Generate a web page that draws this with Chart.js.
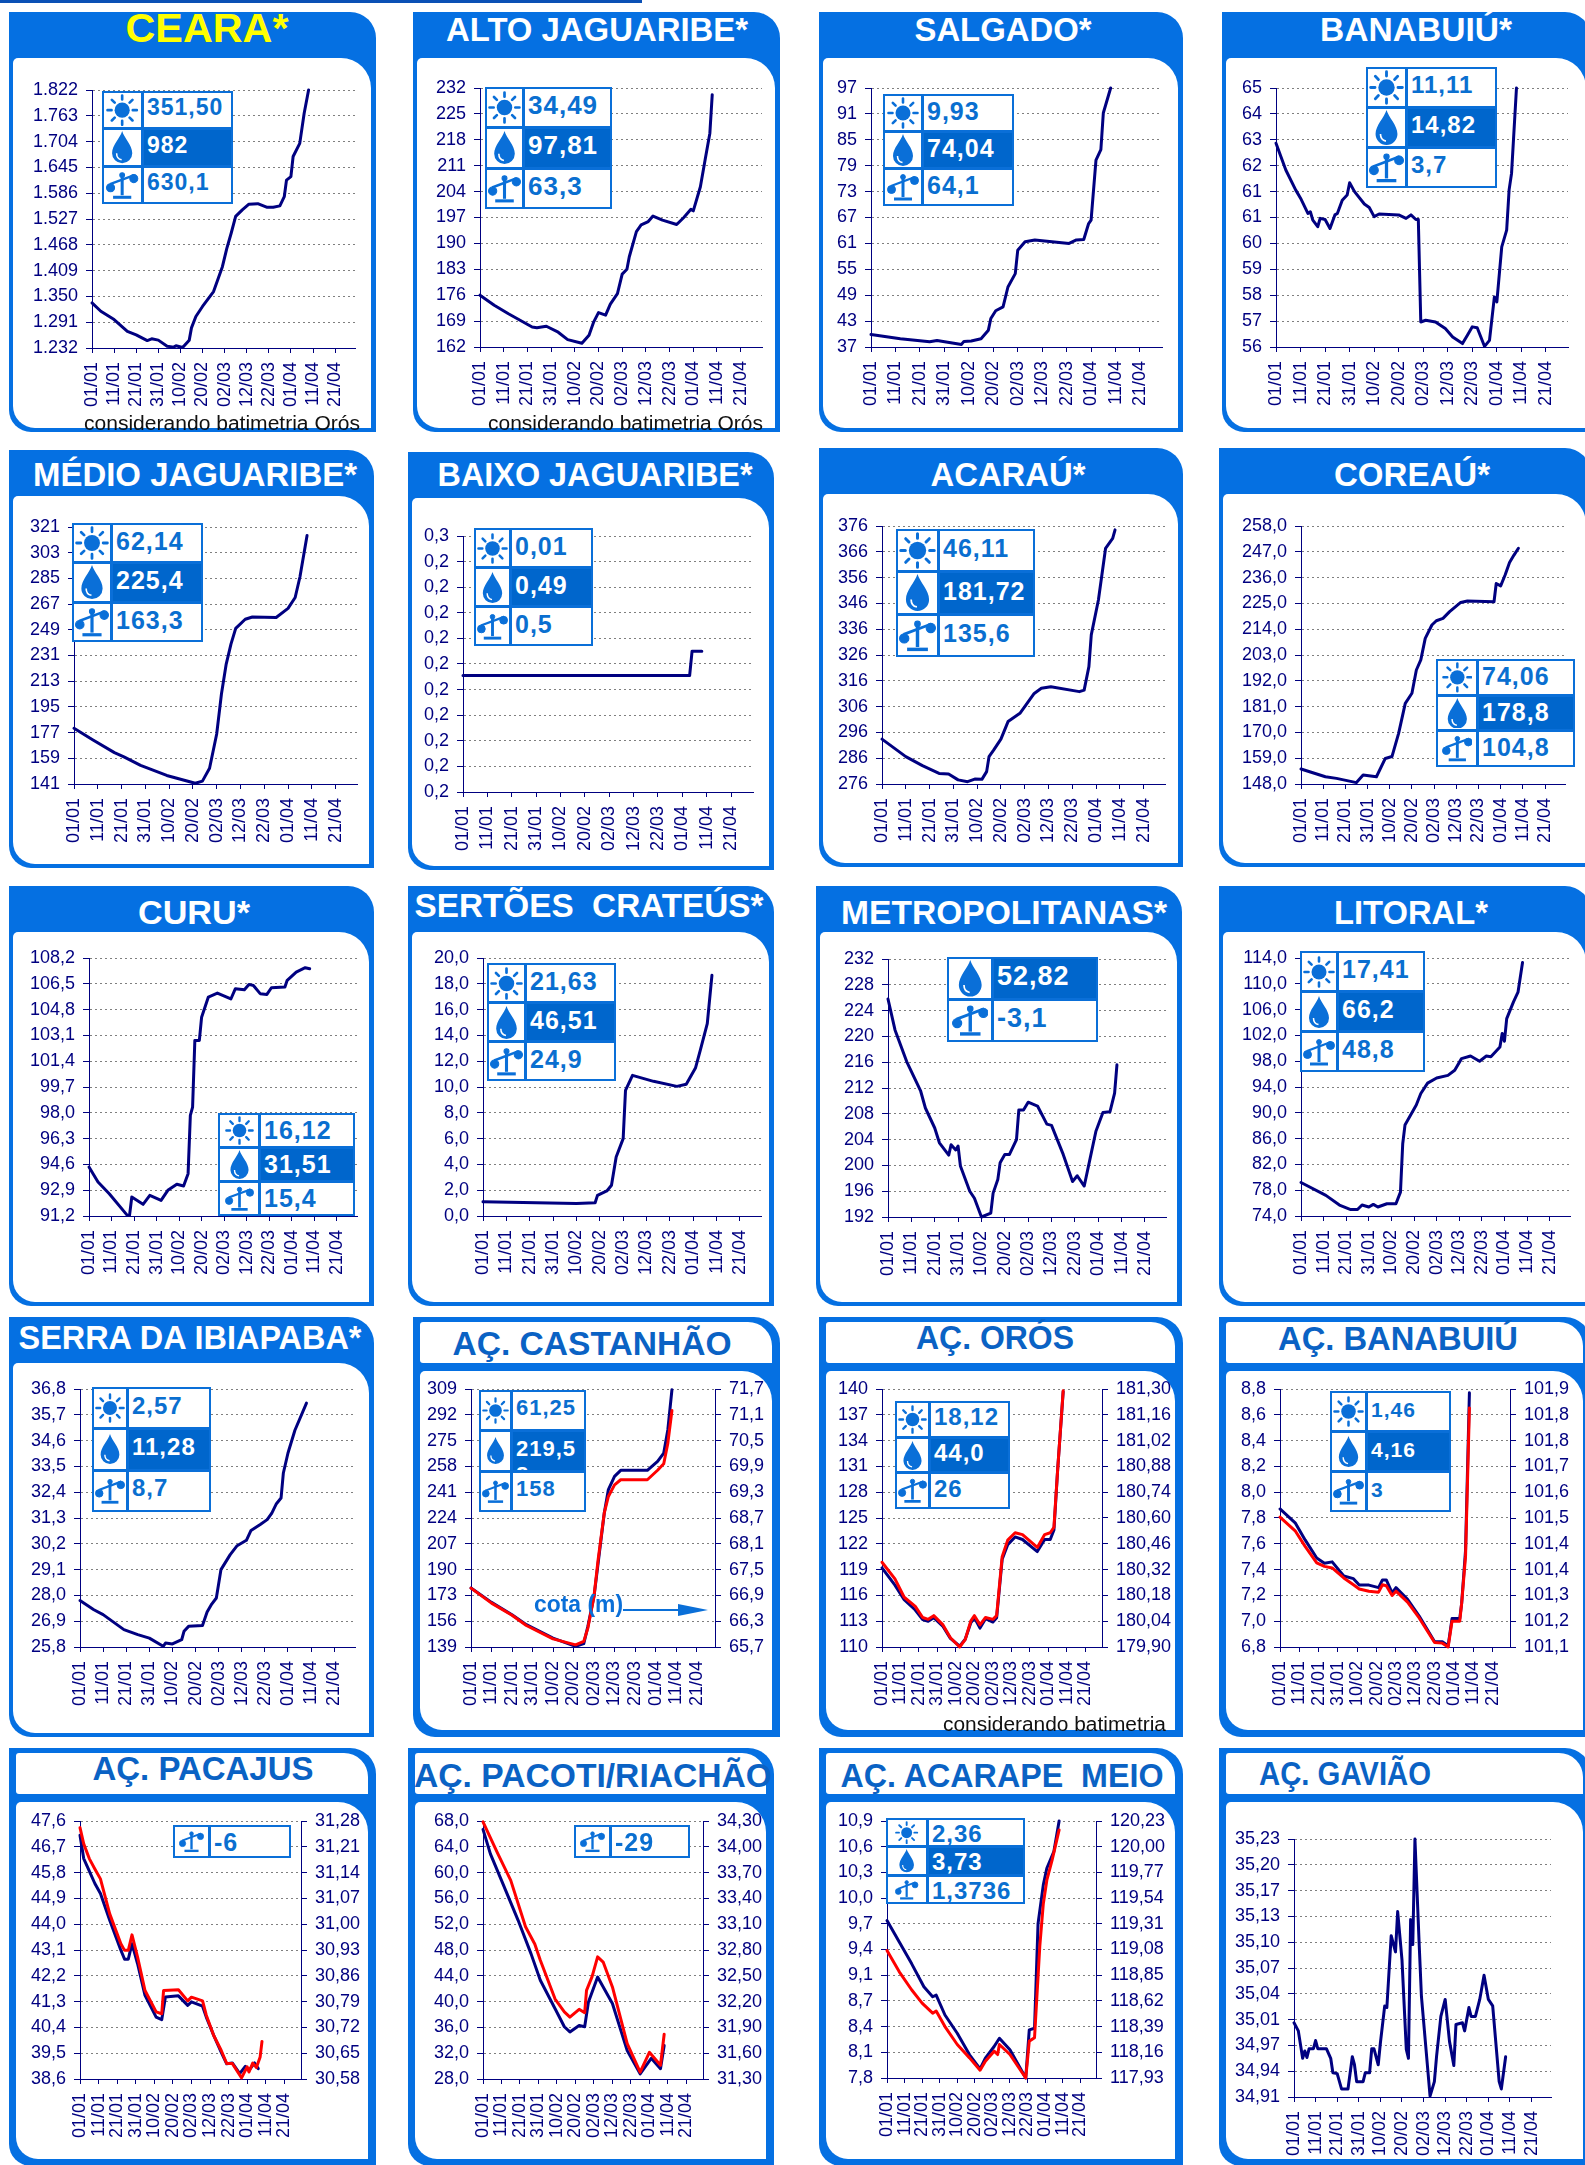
<!DOCTYPE html>
<html>
<head>
<meta charset="utf-8">
<title>Reservatórios Ceará</title>
<script src="https://cdn.jsdelivr.net/npm/chart.js@4"></script>
<style>
  html, body { margin: 0; padding: 0; background: #fff; }
  body { position: relative; width: 1585px; height: 2165px; overflow: hidden; font-family: "Liberation Sans", Arial, sans-serif; }
  .topbar { position: absolute; left: 0; top: 0; width: 642px; height: 3px; background: #0a50b5; }
  .frame { position: absolute; background: #0570e2; overflow: hidden; border-radius: 0 26px 0 22px; }
  .head { position: absolute; background: #fff; border-radius: 3px 24px 0 3px; }
  .inner { position: absolute; background: #fff; border-radius: 5px 30px 0 22px; }
  .title { position: absolute; font-weight: bold; white-space: pre; line-height: 1; }
  canvas { position: absolute; }
  .box { position: absolute; border: 2px solid #0a6fd8; box-sizing: border-box; background: #fff; display: flex; flex-direction: column; }
  .row { flex: 1 1 0; display: flex; min-height: 0; overflow: hidden; border-top: 3px solid #0a6fd8; }
  .row:first-child { border-top: 0; }
  .icon { border-right: 3px solid #0a6fd8; display: flex; align-items: center; justify-content: center; flex: none; box-sizing: border-box; }
  .val { flex: 1; overflow: hidden; font-weight: bold; color: #0a6fd0; padding-left: 3px; letter-spacing: 1px; white-space: pre; line-height: 1.2; }
  .val.dark { background: #0066cc; color: #fff; }
  .note { position: absolute; color: #111; white-space: pre; line-height: 1; font-size: 20px; }
  svg.arrow { position: absolute; left: 0; top: 0; }
</style>
</head>
<body>
<div class="topbar"></div>
<script>
// eixo X comum a todos os graficos (dias desde 01/01)
const dateLabels = ['01/01','11/01','21/01','31/01','10/02','20/02','02/03','12/03','22/03','01/04','11/04','21/04'];

// series: dias + valores, e rotulos do eixo Y
const cearaDays = [0,4,10,16,20,25,27,30,34,37,38,41,44,45,47,50,55,59,61,63,65,68,71,75,79,82,85,87,88,90,91,94,96,98];
const cearaVals = [1335,1316,1297,1270,1262,1249,1253,1250,1236,1234,1237,1233,1250,1278,1304,1327,1361,1418,1460,1495,1533,1548,1561,1562,1554,1554,1557,1578,1616,1624,1670,1700,1769,1822];
const cearaTicks = ['1.232','1.291','1.350','1.409','1.468','1.527','1.586','1.645','1.704','1.763','1.822'];

const altoDays = [0,6,12,22,24,28,33,37,43,46,48,50,53,55,58,60,62,63,66,68,71,73,77,83,86,89,90,93,95,97,98];
const altoVals = [176,173.3,171,167.4,167.2,167.6,166,164,163,165.2,168.8,171.3,170.6,173.6,176.4,181.7,183,186.4,193.2,195,195.9,197.4,196.3,195.1,197,199.2,198.8,205.3,212.6,219.8,230.2];
const altoTicks = ['162','169','176','183','190','197','204','211','218','225','232'];

const salgadoDays = [0,12,24,27,37,38,41,45,48,49,51,54,56,59,60,63,67,81,84,87,89,90,92,94,95,98];
const salgadoVals = [39.9,38.9,38.2,38.5,37.6,38.3,38.4,38.9,40.9,43.6,45.4,46.3,50.9,54,59.4,61.4,61.8,61,61.8,61.9,65.6,66.4,80.3,82.7,91.2,97];
const salgadoTicks = ['37','43','49','55','61','67','73','79','85','91','97'];

const banabuiuDays = [0,4,8,10,13,14,15,17,18,20,22,24,25,27,29,30,32,36,38,40,42,50,53,55,57,58,59,61,65,69,72,76,78,80,82,85,87,89,90,92,94,95,96,98];
const banabuiuVals = [63.08,62.15,61.46,61.17,60.64,60.7,60.41,60.18,60.47,60.43,60.12,60.59,60.64,61.1,61.28,61.71,61.4,60.97,60.85,60.53,60.62,60.59,60.47,60.59,60.43,60.43,56.87,56.93,56.87,56.64,56.35,56.12,56.41,56.7,56.67,56.02,56.23,57.74,57.57,59.48,60.06,61.46,62.04,65];
const banabuiuTicks = ['56','57','58','59','60','61','61','62','63','64','65'];

const medioDays = [0,8,17,21,28,39,51,54,57,60,62,64,66,68,72,75,85,90,93,95,98];
const medioVals = [180,171.8,163,160,154,147,141.5,143,152,176,204,225,239,250,256.4,258,257.6,264,271.6,286,315];
const medioTicks = ['141','159','177','195','213','231','249','267','285','303','321'];

const baixoDays = [0,93,94,98];
const baixoVals = [0.1955,0.1955,0.205,0.205];
const baixoTicks = ['0,2','0,2','0,2','0,2','0,2','0,2','0,2','0,2','0,2','0,2','0,3'];

const acarauDays = [0,10,17,24,28,32,36,39,42,44,45,47,50,53,58,64,67,71,83,85,87,88,91,94,97,98];
const acarauVals = [293.4,286.6,283.1,280.1,279.9,277.6,276.9,277.9,277.8,280.8,286.6,289.2,293.4,300.2,303.4,311.1,313.1,313.7,311.8,312.4,321.5,333.8,347.3,367.3,371.2,374.5];
const acarauTicks = ['276','286','296','306','316','326','336','346','356','366','376'];

const coreauDays = [0,11,16,25,28,34,38,41,44,47,50,52,54,56,59,61,64,67,72,75,87,88,90,92,94,96,98];
const coreauVals = [154.4,151.1,150.4,148.6,151.8,151.1,158.9,159.7,169.6,182.4,186.7,196.6,200.9,210.1,215.8,217.6,218.6,221.5,225.4,226,225.7,233.5,232.5,237.1,242.4,245.6,248.5];
const coreauTicks = ['148,0','159,0','170,0','181,0','192,0','203,0','214,0','225,0','236,0','247,0','258,0'];

const curuDays = [0,4,9,17,18,19,24,27,32,35,39,42,44,45,46,47,49,50,53,57,63,65,69,71,73,76,79,81,87,88,92,96,98];
const curuVals = [94.43,93.44,92.67,91.24,91.24,92.45,91.97,92.56,92.23,92.89,93.29,93.18,93.99,97.83,98.38,102.77,102.77,104.3,105.63,105.89,105.5,106.18,106.11,106.46,106.39,105.85,105.8,106.24,106.29,106.73,107.27,107.56,107.49];
const curuTicks = ['91,2','92,9','94,6','96,3','98,0','99,7','101,4','103,1','104,8','106,5','108,2'];

const sertoesDays = [0,40,48,49,53,55,57,60,61,64,73,83,87,91,93,96,98];
const sertoesVals = [1.11,0.96,1.03,1.6,1.94,2.38,4.57,6,9.74,10.9,10.44,10.05,10.21,11.5,12.84,14.91,18.66];
const sertoesTicks = ['0,0','2,0','4,0','6,0','8,0','10,0','12,0','14,0','16,0','18,0','20,0'];

const metroDays = [0,3,8,14,16,20,22,26,27,29,30,31,35,37,40,44,45,47,48,50,52,55,56,58,60,64,68,70,75,79,81,84,87,89,92,95,97,98];
const metroVals = [225.8,221,216.1,211.5,208.9,205.8,203.5,201.6,203.2,202.4,203,199.9,196,194.9,192,192.6,195.7,197.8,200.4,201.7,201.7,204,208.6,208.6,209.8,209.2,206.4,206.2,201.7,197.5,198.4,196.8,201.9,205.3,208.2,208.3,211.2,215.6];
const metroTicks = ['192','196','200','204','208','212','216','220','224','228','232'];

const litoralDays = [0,11,17,22,25,27,30,32,34,38,42,44,45,46,51,53,56,60,65,68,71,75,79,82,84,88,89,90,91,94,96,98];
const litoralVals = [79.2,77.2,75.7,75,75,75.7,75.4,75.8,75.4,75.9,75.9,77.7,85.2,88.1,91.2,93,94.6,95.4,95.8,96.6,98.4,98.8,98,98.8,98.7,100.2,102.3,101.1,104.6,107.2,108.7,113.3];
const litoralTicks = ['74,0','78,0','82,0','86,0','90,0','94,0','98,0','102,0','106,0','110,0','114,0'];

const serraDays = [0,6,10,19,25,30,36,37,40,44,45,47,53,55,57,59,61,65,68,72,74,78,81,83,85,87,88,90,93,98];
const serraVals = [27.78,27.39,27.18,26.54,26.33,26.18,25.83,25.97,25.93,26.11,26.47,26.68,26.72,27.29,27.63,27.89,29.1,29.74,30.12,30.35,30.77,31.02,31.23,31.51,31.91,32.15,33.22,34.07,35.04,36.2];
const serraTicks = ['25,8','26,9','28,0','29,1','30,2','31,3','32,4','33,5','34,6','35,7','36,8'];

const castanhaoDays = [0,10,20,27,40,51,55,57,60,62,65,67,70,73,86,91,94,96,98];
const castanhaoVals = [177.9,168.4,160.3,153.7,144.9,139.4,141.2,152.6,172.4,194.3,227.3,242.7,251.4,255.4,255.4,261.3,266.8,282.2,308.5];
const castanhaoCota = [67.07,66.72,66.44,66.2,65.89,65.75,65.83,66.14,66.88,67.73,68.82,69.2,69.47,69.59,69.59,69.81,69.96,70.44,71.2];
const castanhaoTicks = ['139','156','173','190','207','224','241','258','275','292','309'];
const castanhaoCotaTicks = ['65,7','66,3','66,9','67,5','68,1','68,7','69,3','69,9','70,5','71,1','71,7'];

const orosDays = [0,7,12,18,22,25,28,33,37,42,45,48,50,53,56,60,62,65,68,72,76,84,88,91,93,95,98];
const orosVals = [119.2,117.2,115.5,114.3,113.2,113,113.4,112.4,111,110.1,110.9,112.8,113.4,112.2,113.3,112.9,113.4,120.2,121.9,122.8,122.5,121.1,122.5,122.5,123.6,130.6,139.7];
const orosCota = [180.36,180.27,180.17,180.12,180.06,180.05,180.07,180.02,179.95,179.9,179.94,180.04,180.07,180.02,180.06,180.05,180.07,180.39,180.48,180.52,180.51,180.44,180.51,180.52,180.55,180.86,181.29];
const orosTicks = ['110','113','116','119','122','125','128','131','134','137','140'];
const orosCotaTicks = ['179,90','180,04','180,18','180,32','180,46','180,60','180,74','180,88','181,02','181,16','181,30'];

const acBanabuiuDays = [0,8,13,19,23,27,33,38,41,46,51,53,55,58,60,66,72,80,84,87,89,93,94,96,98];
const acBanabuiuVals = [7.87,7.76,7.63,7.49,7.45,7.46,7.35,7.33,7.28,7.28,7.26,7.32,7.32,7.22,7.26,7.17,7.04,6.84,6.84,6.81,7.02,7.02,7.14,7.55,8.77];
const acBanabuiuCota = [101.503,101.459,101.412,101.361,101.35,101.345,101.314,101.293,101.28,101.273,101.27,101.293,101.29,101.26,101.273,101.239,101.19,101.114,101.112,101.1,101.18,101.18,101.236,101.381,101.841];
const acBanabuiuTicks = ['6,8','7,0','7,2','7,4','7,6','7,8','8,0','8,2','8,4','8,6','8,8'];
const acBanabuiuCotaTicks = ['101,1','101,2','101,3','101,4','101,4','101,5','101,6','101,7','101,8','101,8','101,9'];

const pacajusDays = [0,2,4,8,11,16,22,24,26,28,31,35,41,44,46,53,58,60,66,68,72,76,79,82,86,89,91,94,96];
const pacajusVals = [47.1,46.29,46,45.42,45.07,44.14,43.09,42.78,42.78,43.32,42.62,41.52,40.76,40.67,41.46,41.5,41.17,41.29,41.14,40.76,40.12,39.54,39.13,39.16,38.79,39.04,38.9,39.16,38.96];
const pacajusCotaDays = [0,2,5,8,11,16,22,24,26,28,31,35,41,44,45,53,58,60,66,68,72,76,79,82,87,90,91,93,95,97,98];
const pacajusCota = [31.262,31.218,31.178,31.15,31.123,31.028,30.947,30.929,30.929,30.971,30.911,30.82,30.762,30.757,30.82,30.822,30.792,30.802,30.792,30.753,30.698,30.658,30.622,30.622,30.583,30.613,30.599,30.623,30.611,30.64,30.682];
const pacajusTicks = ['38,6','39,5','40,4','41,3','42,2','43,1','44,0','44,9','45,8','46,7','47,6'];
const pacajusCotaTicks = ['30,58','30,65','30,72','30,79','30,86','30,93','31,00','31,07','31,14','31,21','31,28'];

const pacotiDays = [0,4,10,19,26,31,39,44,47,52,55,57,62,70,78,85,91,96,98];
const pacotiVals = [66.7,62.9,58.8,52.6,47.4,43.3,38.9,36.1,35.3,36.3,36.1,39.9,43.8,39.7,32.4,28.8,31.2,29.6,33.2];
const pacotiCotaDays = [0,8,15,23,28,31,39,44,47,52,55,56,59,62,65,70,78,85,90,96,98];
const pacotiCota = [34.29,33.92,33.61,33.07,32.87,32.68,32.23,32.08,32.02,32.11,32.07,32.33,32.49,32.72,32.66,32.37,31.71,31.38,31.61,31.46,31.82];
const pacotiTicks = ['28,0','32,0','36,0','40,0','44,0','48,0','52,0','56,0','60,0','64,0','68,0'];
const pacotiCotaTicks = ['31,30','31,60','31,90','32,20','32,50','32,80','33,10','33,40','33,70','34,00','34,30'];

const acarapeDays = [0,7,14,21,26,28,33,40,47,53,56,61,64,70,79,81,84,86,89,91,95,98];
const acarapeVals = [9.7,9.44,9.18,8.9,8.78,8.8,8.56,8.34,8.08,7.91,8.04,8.18,8.28,8.14,7.8,8.38,8.4,9.66,10.13,10.33,10.53,10.9];
const acarapeCotaDays = [0,7,14,20,26,28,33,40,47,53,56,61,63,64,70,79,81,84,87,89,91,94,98];
const acarapeCota = [119.07,118.88,118.72,118.6,118.51,118.53,118.39,118.23,118.11,118,118.08,118.17,118.14,118.23,118.14,117.93,118.26,118.29,119.11,119.49,119.7,119.88,120.15];
const acarapeTicks = ['7,8','8,1','8,4','8,7','9,1','9,4','9,7','10,0','10,3','10,6','10,9'];
const acarapeCotaTicks = ['117,93','118,16','118,39','118,62','118,85','119,08','119,31','119,54','119,77','120,00','120,23'];

const gaviaoDays = [0,2,4,5,6,7,9,10,11,15,17,18,20,22,25,27,28,29,32,33,35,36,37,39,40,42,43,45,47,48,50,52,53,54,55,56,58,59,63,65,66,68,70,72,74,75,78,79,81,82,84,86,88,90,92,95,96,98];
const gaviaoVals = [35.002,34.992,34.958,34.967,34.959,34.97,34.97,34.98,34.97,34.97,34.958,34.94,34.939,34.92,34.92,34.96,34.95,34.929,34.929,34.94,34.94,34.97,34.97,34.95,34.977,35.023,35.021,35.11,35.09,35.14,35.08,34.969,34.958,35.13,35.099,35.23,35.097,35.035,34.911,34.929,34.96,35.01,35.031,34.979,34.949,35,35.002,34.992,35.021,35.01,35.01,35.031,35.061,35.031,35.023,34.929,34.92,34.96];
const gaviaoTicks = ['34,91','34,94','34,97','35,01','35,04','35,07','35,10','35,13','35,17','35,20','35,23'];

// cores e estilo do grafico
const NAVY = '#000080';
const RED = '#ff0000';
const GRID = '#7f7f7f';
const LABEL_H = 75;
const TOP_PAD = 12;

// layout de cada painel: moldura, titulo, area do grafico, caixa de numeros
const panels = [
  { frame:[9,12,367,420], title:'CEARÁ*', cx:207, cy:28, tw:163, fs:40, color:'#ffff00', plot:[92,90,355,348], range:[1232,1822],
    days:cearaDays, vals:cearaVals, ticks:cearaTicks, box:[102,91,131,113,40,23], nums:['351,50','982','630,1'] },
  { frame:[413,12,367,420], title:'ALTO JAGUARIBE*', cx:597, cy:29, tw:302, plot:[480,88,762,347], range:[162,232],
    days:altoDays, vals:altoVals, ticks:altoTicks, box:[485,87,127,122,38,26], nums:['34,49','97,81','63,3'] },
  { frame:[819,12,364,420], title:'SALGADO*', cx:1003, cy:29, tw:177, plot:[871,88,1162,347], range:[37,97],
    days:salgadoDays, vals:salgadoVals, ticks:salgadoTicks, box:[883,94,131,112,39,25], nums:['9,93','74,04','64,1'] },
  { frame:[1222,12,369,420], title:'BANABUIÚ*', cx:1416, cy:29, tw:192, plot:[1276,88,1568,347], range:[56,65],
    days:banabuiuDays, vals:banabuiuVals, ticks:banabuiuTicks, box:[1366,67,131,121,40,24], nums:['11,11','14,82','3,7'] },

  { frame:[9,450,365,418], title:'MÉDIO JAGUARIBE*', cx:195, cy:474, tw:324, plot:[74,527,357,784], range:[141,321],
    days:medioDays, vals:medioVals, ticks:medioTicks, box:[72,523,131,119,39,25], nums:['62,14','225,4','163,3'] },
  { frame:[408,452,366,418], title:'BAIXO JAGUARIBE*', cx:595, cy:474, tw:315, plot:[463,536,753,792], range:[0.15,0.25],
    days:baixoDays, vals:baixoVals, ticks:baixoTicks, box:[474,528,119,118,36,25], nums:['0,01','0,49','0,5'] },
  { frame:[819,448,364,419], title:'ACARAÚ*', cx:1008, cy:474, tw:155, plot:[882,526,1165,784], range:[276,376],
    days:acarauDays, vals:acarauVals, ticks:acarauTicks, box:[896,529,139,128,42,25], nums:['46,11','181,72','135,6'] },
  { frame:[1219,448,372,419], title:'COREAÚ*', cx:1412, cy:474, tw:156, plot:[1301,526,1565,784], range:[148,258],
    days:coreauDays, vals:coreauVals, ticks:coreauTicks, box:[1436,659,139,108,41,25], nums:['74,06','178,8','104,8'] },

  { frame:[9,886,365,420], title:'CURU*', cx:194, cy:912, tw:112, plot:[89,958,357,1216], range:[91.2,108.2],
    days:curuDays, vals:curuVals, ticks:curuTicks, box:[218,1113,137,103,41,25], nums:['16,12','31,51','15,4'] },
  { frame:[408,886,366,420], title:'SERTÕES  CRATEÚS*', cx:589, cy:905, tw:349, plot:[483,958,761,1216], range:[0,20],
    days:sertoesDays, vals:sertoesVals, ticks:sertoesTicks, box:[487,963,129,118,38,25], nums:['21,63','46,51','24,9'] },
  { frame:[816,886,366,420], title:'METROPOLITANAS*', cx:1004, cy:912, tw:326, plot:[888,959,1166,1217], range:[192,232],
    days:metroDays, vals:metroVals, ticks:metroTicks, box:[947,957,151,85,45,27], nums:[null,'52,82','-3,1'] },
  { frame:[1219,886,372,420], title:'LITORAL*', cx:1411, cy:912, tw:154, plot:[1301,958,1570,1216], range:[74,114],
    days:litoralDays, vals:litoralVals, ticks:litoralTicks, box:[1300,951,125,121,37,25], nums:['17,41','66,2','48,8'] },

  { frame:[9,1317,365,420], title:'SERRA DA IBIAPABA*', cx:190, cy:1337, tw:343, plot:[80,1389,355,1647], range:[25.8,36.8],
    days:serraDays, vals:serraVals, ticks:serraTicks, box:[92,1387,119,125,35,24], nums:['2,57','11,28','8,7'] },
  { frame:[413,1317,367,420], outline:true, title:'AÇ. CASTANHÃO', cx:592, cy:1343, tw:279, plot:[471,1389,715,1647], range:[139,309],
    days:castanhaoDays, vals:castanhaoVals, ticks:castanhaoTicks, box:[479,1390,107,122,32,22], nums:['61,25','219,5\n8','158'],
    red:castanhaoCota, redTicks:castanhaoCotaTicks, redRange:[65.7,71.7] },
  { frame:[819,1317,364,420], outline:true, title:'AÇ. ORÓS', cx:995, cy:1337, tw:158, plot:[882,1389,1102,1647], range:[110,140],
    days:orosDays, vals:orosVals, ticks:orosTicks, box:[895,1401,115,108,34,24], nums:['18,12','44,0','26'],
    red:orosCota, redTicks:orosCotaTicks, redRange:[179.9,181.3] },
  { frame:[1219,1317,372,420], outline:true, title:'AÇ. BANABUIÚ', cx:1398, cy:1338, tw:240, plot:[1280,1389,1510,1647], range:[6.8,8.8],
    days:acBanabuiuDays, vals:acBanabuiuVals, ticks:acBanabuiuTicks, box:[1330,1391,121,121,36,21], nums:['1,46','4,16','3'],
    red:acBanabuiuCota, redTicks:acBanabuiuCotaTicks, redRange:[101.1,101.9] },

  { frame:[9,1748,367,418], outline:true, title:'AÇ. PACAJUS', cx:203, cy:1768, tw:221, plot:[80,1821,301,2079], range:[38.6,47.6],
    days:pacajusDays, vals:pacajusVals, ticks:pacajusTicks, box:[173,1825,118,33,36,25], nums:[null,null,'-6'],
    red:pacajusCota, redDays:pacajusCotaDays, redTicks:pacajusCotaTicks, redRange:[30.58,31.28] },
  { frame:[408,1748,366,418], outline:true, title:'AÇ. PACOTI/RIACHÃO', cx:593, cy:1775, tw:358, plot:[483,1821,703,2079], range:[28,68],
    days:pacotiDays, vals:pacotiVals, ticks:pacotiTicks, box:[574,1825,116,33,36,25], nums:[null,null,'-29'],
    red:pacotiCota, redDays:pacotiCotaDays, redTicks:pacotiCotaTicks, redRange:[31.3,34.3] },
  { frame:[819,1748,364,418], outline:true, title:'AÇ. ACARAPE  MEIO', cx:1002, cy:1775, tw:323, plot:[887,1821,1096,2078], range:[7.8,10.9],
    days:acarapeDays, vals:acarapeVals, ticks:acarapeTicks, box:[886,1818,139,86,41,24], nums:['2,36','3,73','1,3736'],
    red:acarapeCota, redDays:acarapeCotaDays, redTicks:acarapeCotaTicks, redRange:[117.93,120.23] },
  { frame:[1219,1748,372,418], outline:true, title:'AÇ. GAVIÃO', cx:1345, cy:1773, tw:172, plot:[1294,1839,1551,2097], range:[34.91,35.23],
    days:gaviaoDays, vals:gaviaoVals, ticks:gaviaoTicks, box:null }
];

// textos soltos sobre os paineis
const notes = [
  { text:'considerando batimetria Orós', x:84, y:423, w:276 },
  { text:'considerando batimetria Orós', x:488, y:423, w:275 },
  { text:'considerando batimetria', x:943, y:1724, w:223 }
];

// icones da caixa de numeros
const ICON = {
  sun: '<circle cx="16" cy="16" r="7.5" fill="#0a6fd8"/><g stroke="#0a6fd8" stroke-width="2.6" stroke-linecap="round"><path d="M16 1.5v4M16 26.5v4M1.5 16h4M26.5 16h4M5.8 5.8l2.8 2.8M23.4 23.4l2.8 2.8M5.8 26.2l2.8-2.8M23.4 8.6l2.8-2.8"/></g>',
  drop: '<path d="M16 0C14 7 6 14 6 22a10 10 0 0 0 20 0C26 14 18 7 16 0z" fill="#0a6fd8"/><path d="M10.5 22c0 4 2 6 5 6.5" fill="none" stroke="#fff" stroke-width="1.5"/>',
  scale: '<g fill="#0a6fd8" stroke="#0a6fd8"><path d="M16 7v19" stroke-width="3" fill="none"/><path d="M7 28h18" stroke-width="3" fill="none"/><path d="M4 15L28 6" stroke-width="2.4" fill="none"/><circle cx="4.5" cy="18.5" r="4"/><circle cx="27.5" cy="9.5" r="4"/><circle cx="16" cy="6" r="2.4"/></g>'
};

function addDiv(parent, cls, css) {
  const d = document.createElement('div');
  d.className = cls;
  Object.assign(d.style, css);
  parent.appendChild(d);
  return d;
}

// moldura azul com cabecalho cheio ou so contornado
function drawFrame(p) {
  const [x, y, w, h] = p.frame;
  const f = addDiv(document.body, 'frame', { left: x+'px', top: y+'px', width: w+'px', height: h+'px' });
  if (p.outline) {
    addDiv(f, 'head', { left:'7px', top:'5px', width:(w-15)+'px', height:'41px' });
    addDiv(f, 'inner', { left:'7px', top:'54px', width:(w-15)+'px', height:(h-61)+'px' });
  } else {
    addDiv(f, 'inner', { left:'4px', top:'46px', width:(w-9)+'px', height:(h-50)+'px' });
  }
  const t = addDiv(f, 'title', { fontSize:(p.fs||33)+'px', color:p.color||(p.outline?'#0a62c4':'#fff') });
  t.textContent = p.title;
  const natural = t.getBoundingClientRect().width;
  t.style.left = (p.cx-x)+'px';
  t.style.top = (p.cy-y)+'px';
  t.style.transform = `translate(-50%,-50%) scaleX(${p.tw/natural})`;
}

// eixo Y com os rotulos da figura, igualmente espacados
function yAxis(range, labels, side, width, grid) {
  return {
    type: 'linear', position: side, min: range[0], max: range[1], bounds: 'data',
    afterBuildTicks: s => { s.ticks = labels.map((l, i) => ({ value: range[0] + i*(range[1]-range[0])/(labels.length-1) })); },
    afterFit: s => { s.width = width; s.paddingTop = 0; s.paddingBottom = 0; },
    ticks: { autoSkip:false, padding:8, color:NAVY, font:{ family:'"Liberation Sans"', size:18 }, callback:(v, i) => labels[i] },
    grid: { drawOnChartArea:grid, drawTicks:true, tickLength:6, tickColor:NAVY, color:GRID, tickBorderDash:[] },
    border: { color:NAVY, width:1, dash:[2,3] }
  };
}

function drawChart(p) {
  const [fx, , fw] = p.frame;
  const [l, t, r, b] = p.plot;
  const lw = l-fx, rw = fx+fw-r;
  const c = document.createElement('canvas');
  c.width = fw;
  c.height = TOP_PAD + (b-t) + LABEL_H;
  c.style.left = fx+'px';
  c.style.top = (t-TOP_PAD)+'px';
  document.body.appendChild(c);

  const toPts = (days, vals) => days.map((d, i) => ({ x:d, y:vals[i] }));
  const datasets = [{ data:toPts(p.days, p.vals), yAxisID:'y', borderColor:NAVY, order:2 }];
  const scales = {
    x: {
      type:'linear', min:0, max:119, bounds:'data',
      afterBuildTicks: s => { s.ticks = dateLabels.map((d, i) => ({ value:i*10 })); },
      afterFit: s => { s.height = LABEL_H; s.paddingLeft = 0; s.paddingRight = 0; },
      ticks: { autoSkip:false, minRotation:90, maxRotation:90, padding:9, color:NAVY, font:{ family:'"Liberation Sans"', size:18 }, callback:(v, i) => dateLabels[i] },
      grid: { drawOnChartArea:false, tickLength:5, tickColor:NAVY },
      border: { color:NAVY, width:1 }
    },
    y: yAxis(p.range, p.ticks, 'left', lw, true)
  };
  if (p.red) {
    datasets.push({ data:toPts(p.redDays||p.days, p.red), yAxisID:'y2', borderColor:RED, order:1 });
    scales.y2 = yAxis(p.redRange, p.redTicks, 'right', rw, false);
  }

  new Chart(c, {
    type: 'line',
    data: { datasets: datasets.map(d => Object.assign(d, { borderWidth:3, pointRadius:0, tension:0, borderJoinStyle:'round', borderCapStyle:'round', clip:6 })) },
    options: {
      responsive:false, animation:false, devicePixelRatio:1,
      layout: { padding:{ top:TOP_PAD, left:0, bottom:0, right:p.red?0:rw } },
      plugins: { legend:{ display:false }, tooltip:{ enabled:false } },
      scales
    }
  });
}

// caixa com sol / gota / balanca
function drawBox(p) {
  if (!p.box) return;
  const [x, y, w, h, iw, fs] = p.box;
  const box = addDiv(document.body, 'box', { left:x+'px', top:y+'px', width:w+'px', height:h+'px', zIndex:2 });
  const nRows = p.nums.filter(n => n !== null).length;
  const rowH = (h-4)/nRows;
  ['sun','drop','scale'].forEach((kind, i) => {
    if (p.nums[i] === null) return;
    const row = addDiv(box, 'row', {});
    const ic = addDiv(row, 'icon', { width:iw+'px' });
    const sz = Math.min(iw-5, rowH-4);
    ic.innerHTML = `<svg width="${sz}" height="${sz}" viewBox="0 0 32 32">${ICON[kind]}</svg>`;
    const v = addDiv(row, 'val' + (kind === 'drop' ? ' dark' : ''), { fontSize:fs+'px', paddingTop:Math.max(0, rowH*0.42-fs*0.6)+'px' });
    v.textContent = p.nums[i];
  });
}

function drawNotes() {
  notes.forEach(n => {
    const d = addDiv(document.body, 'note', { left:n.x+'px', top:(n.y-10)+'px', zIndex:3, transformOrigin:'left center' });
    d.textContent = n.text;
    d.style.transform = `scaleX(${n.w/d.getBoundingClientRect().width})`;
  });
}

// seta "cota (m)" do Castanhao
function drawCota() {
  const t = addDiv(document.body, 'title', { left:'534px', top:'1592px', fontSize:'24px', color:'#0a6fd8', zIndex:3, transformOrigin:'left center' });
  t.textContent = 'cota (m)';
  t.style.transform = `scaleX(${89/t.getBoundingClientRect().width})`;
  document.body.insertAdjacentHTML('beforeend',
    '<svg class="arrow" width="1585" height="2165" style="z-index:3;pointer-events:none"><path d="M623 1610H680" stroke="#0a6fd8" stroke-width="2" fill="none"/><path d="M678 1604L708 1610L678 1616z" fill="#0a6fd8"/></svg>');
}

panels.forEach(p => { drawFrame(p); drawChart(p); drawBox(p); });
drawNotes();
drawCota();
</script>
</body>
</html>
